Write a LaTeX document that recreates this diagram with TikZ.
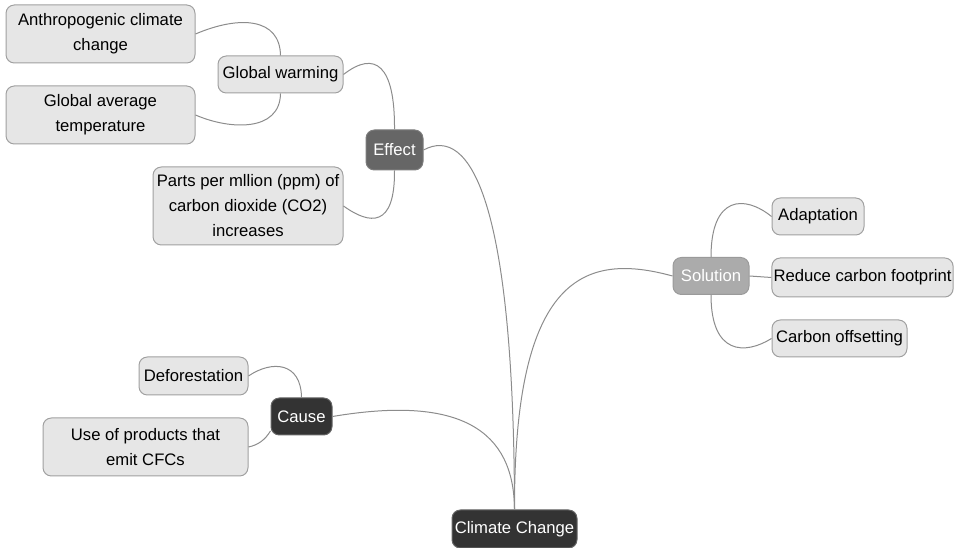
\documentclass[tikz,border=0pt]{standalone}
\usepackage{fontspec}
\setmainfont{Liberation Sans}
\definecolor{darktopic}{HTML}{333333}
\definecolor{midtopic}{HTML}{666666}
\definecolor{lighttopic}{HTML}{ABABAB}
\definecolor{leaffill}{HTML}{E6E6E6}
\definecolor{leafline}{HTML}{A0A0A0}
\definecolor{linkline}{HTML}{8C8C8C}

\begin{document}
\begin{tikzpicture}[x=0.6pt, y=-0.6pt,
    every node/.style={font=\fontsize{10}{15}\selectfont, align=center, inner sep=1pt, line width=0.6pt, rounded corners=5pt},
    darknode/.style={fill=darktopic, draw=darktopic!75!white, text=white},
    midnode/.style={fill=midtopic, draw=midtopic!85!white, text=white},
    lightnode/.style={fill=lighttopic, draw=lighttopic!90!black, text=white},
    leafnode/.style={fill=leaffill, draw=leafline, text=black},
    link/.style={draw=linkline, line width=0.6pt}]
        \useasboundingbox (0,0) rectangle (954,548);
        % Nodes
        \node[darknode, minimum width=75pt, minimum height=22.8pt] (CC) at (514.5,529) {Climate Change};
        \node[darknode, minimum width=36.6pt, minimum height=22.2pt] (Cause) at (301.5,416.5) {Cause};
        \node[midnode, minimum width=34.2pt, minimum height=24pt] (Effect) at (394.5,150) {Effect};
        \node[lightnode, minimum width=45.6pt, minimum height=22.2pt] (Sol) at (711,276) {Solution};
        \node[leafnode, minimum width=75pt, minimum height=22.2pt] (GW) at (280.5,74.5) {Global warming};
        \node[leafnode, minimum width=113.4pt, minimum height=34.8pt] (Anthro) at (100.5,34) {Anthropogenic climate\\change};
        \node[leafnode, minimum width=113.4pt, minimum height=34.8pt] (GAvg) at (100.5,115) {Global average\\temperature};
        \node[leafnode, minimum width=114pt, minimum height=46.8pt] (Parts) at (248,206) {Parts per mllion (ppm) of\\carbon dioxide (CO2)\\increases};
        \node[leafnode, minimum width=55.2pt, minimum height=22.2pt] (Adapt) at (818,216.5) {Adaptation};
        \node[leafnode, minimum width=108.6pt, minimum height=23.4pt] (Reduce) at (862.5,277.5) {Reduce carbon footprint};
        \node[leafnode, minimum width=81pt, minimum height=22.2pt] (Offset) at (839.5,338.5) {Carbon offsetting};
        \node[leafnode, minimum width=65.4pt, minimum height=22.8pt] (Defor) at (193.5,376) {Deforestation};
        \node[leafnode, minimum width=123pt, minimum height=34.8pt] (Use) at (145.5,447) {Use of products that\\emit CFCs};

        % Edges
        \draw[link] (CC.north) .. controls (514,200) and (470,125) .. (Effect.east);
        \draw[link] (CC.north) .. controls (514,430) and (460,395) .. (Cause.east);
        \draw[link] (CC.north) .. controls (514,275) and (585,252) .. (Sol.west);
        \draw[link] (Effect.north) .. controls (395,65) and (375,50) .. (GW.east);
        \draw[link] (Effect.south) .. controls (395,228) and (370,225) .. (Parts.east);
        \draw[link] (GW.north) .. controls (280,18) and (240,15) .. (Anthro.east);
        \draw[link] (GW.south) .. controls (280,132) and (230,130) .. (GAvg.east);
        \draw[link] (Sol.north) .. controls (711,195) and (745,195) .. (Adapt.west);
        \draw[link] (Sol.east) -- (Reduce.west);
        \draw[link] (Sol.south) .. controls (711,355) and (745,355) .. (Offset.west);
        \draw[link] (Cause.north) .. controls (301,362) and (272,360) .. (Defor.east);
        \draw[link] (Cause.205) .. controls (265,440) and (258,445) .. (Use.east);
    \end{tikzpicture}
\end{document}
